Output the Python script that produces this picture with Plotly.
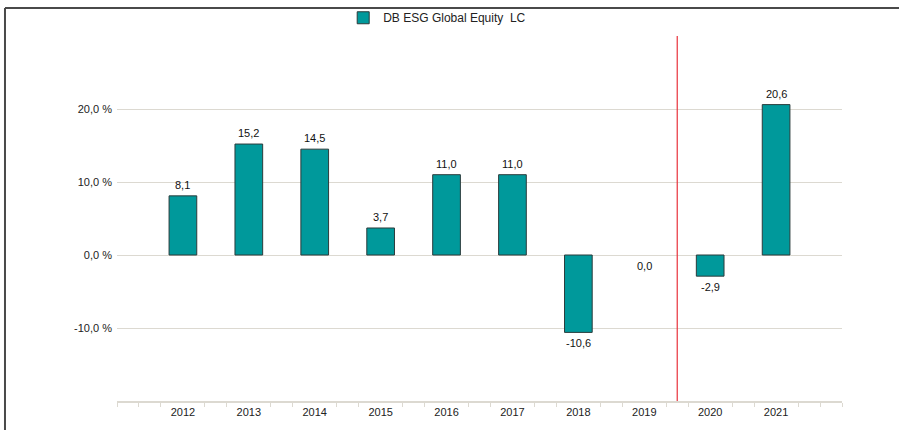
import plotly.graph_objects as go

years = [2012, 2013, 2014, 2015, 2016, 2017, 2018, 2019, 2020, 2021]
values = [8.1, 15.2, 14.5, 3.7, 11.0, 11.0, -10.6, 0.0, -2.9, 20.6]
series_name = "DB ESG Global Equity  LC"
y_ticks = [-10, 0, 10, 20, 30]
y_tick_text = ["-10,0 %", "0,0 %", "10,0 %", "20,0 %", ""]
divider_x = 2019.5

fill = "#00999b"
outline = "#2b3b3b"
grid = "#dcd9d1"
font_fam = "Liberation Sans, Arial, sans-serif"

fig = go.Figure()
fig.add_trace(go.Bar(
    x=years, y=values, name=series_name, width=0.42,
    marker=dict(color=fill,
                line=dict(color=outline, width=[0 if v == 0 else 1 for v in values])),
    showlegend=True,
))

for xv, v in zip(years, values):
    txt = f"{v:.1f}".replace(".", ",")
    fig.add_annotation(
        x=xv, y=v, text=txt, showarrow=False,
        yanchor="bottom" if v > 0 else "top",
        yshift=3 if v > 0 else -3,
        font=dict(family=font_fam, size=11, color="#111"),
    )

fig.add_shape(type="line", x0=divider_x, x1=divider_x, y0=-20, y1=30,
              xref="x", yref="y", line=dict(color="#e8303a", width=1.2))

# outer frame (top and left)
fig.add_shape(type="line", xref="paper", yref="paper",
              x0=-0.1545, x1=1.08, y0=1.0767, y1=1.0767,
              line=dict(color="#4a4a4a", width=2))
fig.add_shape(type="line", xref="paper", yref="paper",
              x0=-0.1545, x1=-0.1545, y0=1.0767, y1=-0.09,
              line=dict(color="#4a4a4a", width=2))

minor_vals = []
for yv in range(2011, 2022):
    minor_vals += [yv + 1/3, yv + 2/3]
minor_vals += [2011, 2022]

fig.update_layout(
    width=899, height=430,
    margin=dict(l=117, r=57, t=36, b=29, autoexpand=False),
    paper_bgcolor="white", plot_bgcolor="white",
    font=dict(family=font_fam, size=11, color="#222"),
    bargap=0.5,
    legend=dict(orientation="h", x=0.312, y=1.05, xanchor="left", yanchor="middle",
                bgcolor="rgba(0,0,0,0)",
                font=dict(family=font_fam, size=12, color="#222"),
                itemwidth=30),
    xaxis=dict(range=[2011, 2022], tickmode="array", tickvals=years,
               ticktext=[str(y) for y in years], ticks="", showgrid=False,
               showline=True, linecolor=grid, linewidth=2, zeroline=False,
               tickfont=dict(size=11, color="#222"),
               minor=dict(tickmode="array", tickvals=minor_vals, ticks="outside",
                          ticklen=4, tickcolor=grid, tickwidth=1, showgrid=False)),
    yaxis=dict(range=[-20, 30], tickmode="array", tickvals=y_ticks,
               ticktext=y_tick_text, showgrid=True, gridcolor=grid, gridwidth=1,
               zeroline=False, showline=False, ticks="", ticklabelstandoff=4,
               tickfont=dict(size=11, color="#222")),
)

fig.write_html("out.html", config={"displayModeBar": False},
               post_script="document.body.style.margin='0px';")
